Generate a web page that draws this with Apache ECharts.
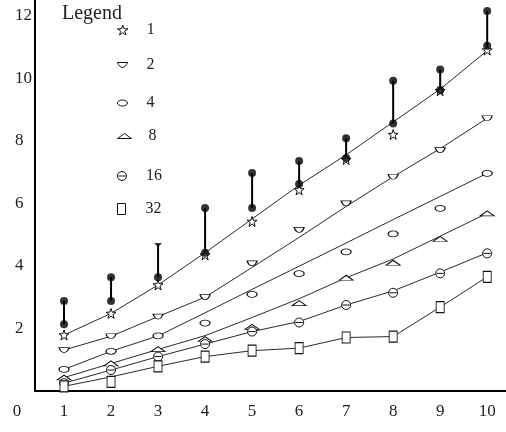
<!DOCTYPE html>
<html>
<head>
<meta charset="utf-8">
<script src="https://cdn.jsdelivr.net/npm/echarts@6/dist/echarts.min.js"></script>
<style>
html, body { margin: 0; padding: 0; background: #fff; }
#chart { width: 506px; height: 432px; }
</style>
</head>
<body>
<div id="chart"></div>
<script>
var xs = [1, 2, 3, 4, 5, 6, 7, 8, 9, 10];
var groups = ['1', '2', '4', '8', '16', '32'];

// measured points (markers)
var pts1 = [1.79, 2.48, 3.39, 4.35, 5.42, 6.43, 7.4, 8.2, 9.6, 10.9];
var pts2 = [1.31, 1.75, 2.38, 3.0, 4.08, 5.15, 6.0, 6.85, 7.7, 8.72];
var pts4 = [0.69, 1.27, 1.76, 2.17, 3.09, 3.75, 4.45, 5.02, 5.84, 6.96];
var pts8 = [0.43, 0.88, 1.34, 1.66, 2.05, 2.81, 3.62, 4.1, 4.86, 5.68];
var pts16 = [0.25, 0.67, 1.1, 1.5, 1.9, 2.19, 2.75, 3.14, 3.76, 4.4];
var pts32 = [0.15, 0.29, 0.79, 1.1, 1.29, 1.37, 1.71, 1.74, 2.68, 3.65];

// the lines drawn through each group
var fit1 = [1.79, 2.48, 3.39, 4.42, 5.5, 6.58, 7.55, 8.6, 9.65, 10.88];
var fit2 = [1.31, 1.75, 2.38, 3.0, 3.95, 4.91, 5.9, 6.85, 7.75, 8.72];
var fit4 = [0.69, 1.27, 1.76, 2.5, 3.25, 3.99, 4.73, 5.48, 6.22, 6.96];
var fit8 = [0.43, 0.88, 1.33, 1.77, 2.35, 2.95, 3.62, 4.22, 4.95, 5.68];
var fit16 = [0.25, 0.67, 1.1, 1.5, 1.9, 2.22, 2.75, 3.2, 3.8, 4.42];
var fit32 = [0.15, 0.45, 0.79, 1.1, 1.29, 1.37, 1.71, 1.74, 2.68, 3.65];

// black dot pairs joined by a vertical bar
var lowDots = [2.13, 2.88, 3.64, 4.42, 5.85, 6.62, 7.45, 8.55, 9.62, 11.04];
var highDots = [2.88, 3.64, 4.67, 5.85, 6.97, 7.35, 8.08, 9.92, 10.28, 12.15];
var capAt = [3]; // top end drawn as a flat cap instead of a dot

var yTicks = [2, 4, 6, 8, 10, 12];

var chart = echarts.init(document.getElementById('chart'));
var serif = 'Liberation Serif';

var marks = {
    '1':  { symbol: 'path://M5,0L6.2,3.6L10,3.6L6.9,5.9L8.1,9.5L5,7.3L1.9,9.5L3.1,5.9L0,3.6L3.8,3.6Z', size: [10, 10] },
    '2':  { symbol: 'path://M0,0h10c-1,3 -3,5 -5,5c-2,0 -4,-2 -5,-5z', size: [10, 5] },
    '4':  { symbol: 'path://M0,3a5,3 0 1,0 10,0a5,3 0 1,0 -10,0z', size: [10, 6] },
    '8':  { symbol: 'path://M0,5L7,0L14,5Z', size: [14, 5] },
    '16': { symbol: 'path://M0,5a5,5 0 1,0 10,0a5,5 0 1,0 -10,0zM1,5h8', size: [9, 9] },
    '32': { symbol: 'path://M0,0h8v11h-8z', size: [8, 11] }
};
var ptsBy = { '1': pts1, '2': pts2, '4': pts4, '8': pts8, '16': pts16, '32': pts32 };
var fitBy = { '1': fit1, '2': fit2, '4': fit4, '8': fit8, '16': fit16, '32': fit32 };

function pairs(arr) {
    return xs.map(function (x, i) { return [x, arr[i]]; });
}

var series = [];
groups.forEach(function (g) {
    series.push({
        name: 'line' + g,
        type: 'line',
        data: pairs(fitBy[g]),
        showSymbol: false,
        lineStyle: { color: '#2a2a2a', width: 1 },
        z: 2
    });
});

series.push({
    name: 'bars',
    type: 'custom',
    data: xs.map(function (x, i) { return [x, lowDots[i], highDots[i]]; }),
    encode: { x: 0, y: [1, 2] },
    renderItem: function (params, api) {
        var a = api.coord([api.value(0), api.value(1)]);
        var b = api.coord([api.value(0), api.value(2)]);
        return {
            type: 'line',
            shape: { x1: a[0], y1: a[1], x2: b[0], y2: b[1] },
            style: { stroke: '#000', lineWidth: 2 }
        };
    },
    z: 3
});

groups.forEach(function (g) {
    series.push({
        name: g,
        type: 'scatter',
        data: pairs(ptsBy[g]),
        symbol: marks[g].symbol,
        symbolSize: marks[g].size,
        itemStyle: { color: '#fff', borderColor: '#111', borderWidth: 1, opacity: 1 },
        z: 4
    });
});

var dotData = pairs(lowDots).concat(xs.map(function (x, i) {
    if (capAt.indexOf(x) >= 0) {
        return { value: [x, highDots[i]], symbol: 'path://M0,0h8l-4,4z', symbolSize: [8, 4] };
    }
    return [x, highDots[i]];
}));
series.push({
    name: 'dots',
    type: 'scatter',
    data: dotData,
    symbol: 'circle',
    symbolSize: 8,
    itemStyle: { color: '#000' },
    z: 5
});

var legendCenters = [31, 66, 104, 137, 177, 210];
var legends = groups.map(function (g, i) {
    var h = marks[g].size[1];
    return {
        data: [g],
        left: 117,
        top: legendCenters[i] - 9,
        padding: 0,
        itemWidth: 38,
        itemHeight: h,
        selectedMode: false,
        itemStyle: { borderWidth: 1 },
        textStyle: { fontFamily: serif, fontSize: 16, color: '#222' }
    };
});

var option = {
    animation: false,
    backgroundColor: '#fff',
    title: {
        text: 'Legend',
        left: 62,
        top: 4,
        padding: 0,
        textStyle: { fontFamily: serif, fontSize: 20, fontWeight: 'normal', color: '#222' }
    },
    legend: legends,
    grid: [
        { left: 17, right: 0, top: 0, bottom: 41, outerBoundsMode: 'none' },
        { left: 35, right: 0, top: 0, bottom: 41, outerBoundsMode: 'none' }
    ],
    xAxis: [
        {
            gridIndex: 0, type: 'value', min: 0, max: 10.4, interval: 1,
            axisLine: { show: false }, axisTick: { show: false }, splitLine: { show: false },
            axisLabel: {
                fontFamily: serif, fontSize: 17, color: '#222', margin: 12,
                formatter: function (v) { return v % 1 === 0 ? String(v) : ''; }
            }
        },
        {
            gridIndex: 1, type: 'value', min: 0, max: 1,
            axisLine: { show: true, lineStyle: { color: '#000', width: 2 } },
            axisTick: { show: false }, axisLabel: { show: false }, splitLine: { show: false }
        }
    ],
    yAxis: [
        { gridIndex: 0, type: 'value', min: 0, max: 12.5, show: false },
        {
            gridIndex: 1, type: 'value', min: 0, max: 12.5, interval: 2,
            axisLine: { show: true, lineStyle: { color: '#000', width: 2 } },
            axisTick: { show: false }, splitLine: { show: false },
            axisLabel: {
                fontFamily: serif, fontSize: 17, color: '#222', margin: 20, align: 'left',
                formatter: function (v) { return yTicks.indexOf(v) >= 0 ? String(v) : ''; }
            }
        }
    ],
    series: series
};
chart.setOption(option);
</script>
</body>
</html>
